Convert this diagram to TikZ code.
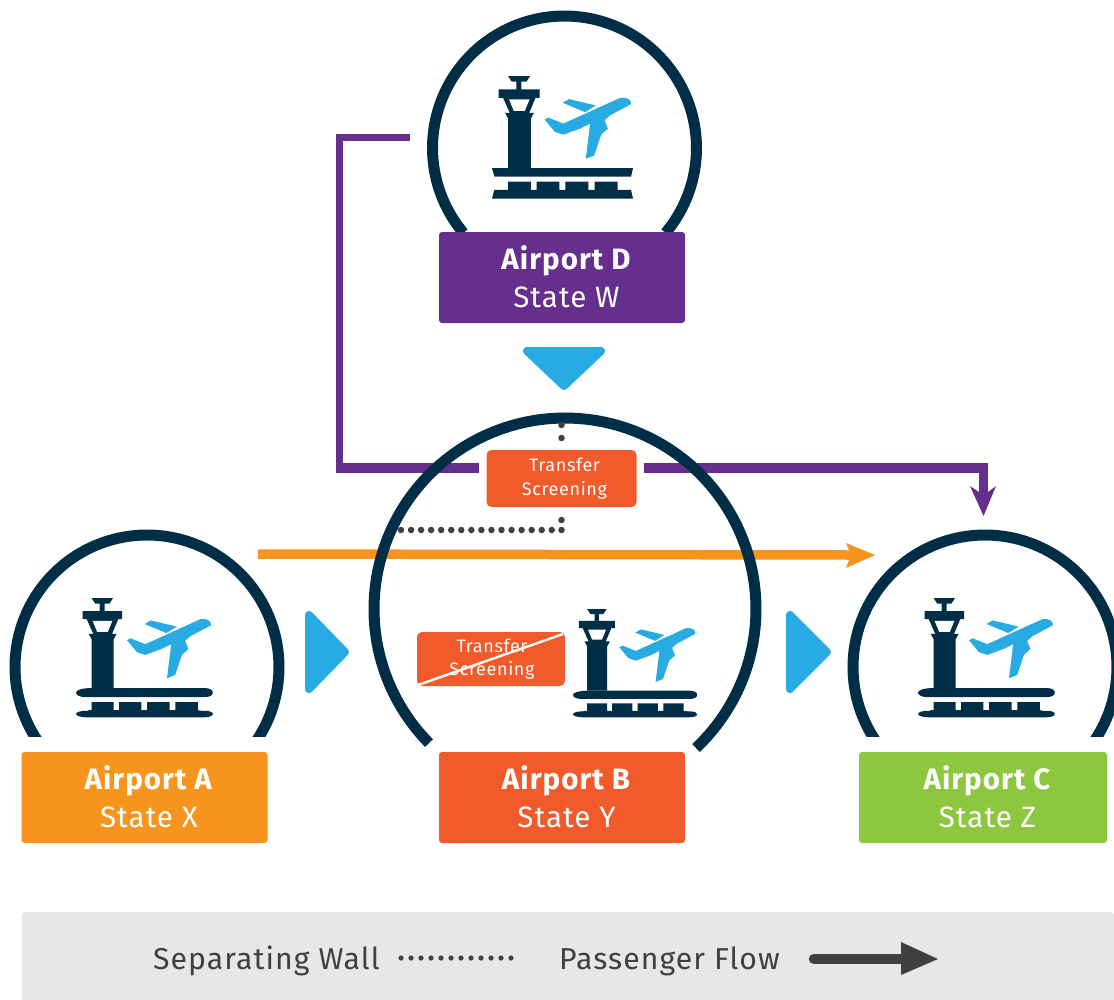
\documentclass[tikz,border=0pt]{standalone}
\usepackage{fontspec}
\setmainfont[LetterSpace=3.5]{Fira Sans}
\definecolor{navy}{HTML}{012E47}
\definecolor{sky}{HTML}{27ABE2}
\definecolor{purp}{HTML}{662F8E}
\definecolor{org}{HTML}{F7941E}
\definecolor{red}{HTML}{F15A2B}
\definecolor{grn}{HTML}{8DC63F}
\definecolor{legendbg}{HTML}{E6E7E8}
\definecolor{ink}{HTML}{404041}
\tikzset{
  labelbox/.style={rounded corners=3pt,minimum width=246pt,minimum height=91pt,text=white,align=center,font=\fontsize{29.5pt}{38pt}\selectfont,inner sep=0pt},
  ring/.style={draw=navy,line width=11pt},
  pointer/.style={fill=sky,draw=sky,line width=8pt,line join=round},
  dot/.style={fill=ink,draw=none,circle,minimum size=6.5pt,inner sep=0pt},
  smalldot/.style={fill=ink,draw=none,circle,minimum size=5.2pt,inner sep=0pt},
  screen/.style={fill=red,rounded corners=5pt,text=white,align=center,font=\fontsize{18pt}{23.5pt}\selectfont,inner sep=0pt},
  legendtext/.style={text=ink,font=\fontsize{30.2pt}{34pt}\selectfont,inner sep=0pt},
}
\newcommand{\lab}[2]{\hspace*{9pt}\raisebox{2pt}{\textbf{#1}}\\\hspace*{9pt}\raisebox{2pt}{#2}}
\newcommand{\airporticon}[4]{% x, y of top-left, scale, round bars (1) or trapezoid (0)
  \begin{scope}[shift={(#1,#2)},x=#3pt,y=-#3pt]
    \fill[navy] (48,0)--(114,0)--(103,17)--(88,17)--(88,40)--(142,40)--(142,65)--(130,65)--(111,110)--(125,110)--(116,127)--(116,277)--(48,277)--(48,127)--(39,110)--(53,110)--(33,65)--(20,65)--(20,40)--(73,40)--(73,17)--(59,17)--cycle;
    \fill[white] (51,70)--(112,70)--(98,104)--(65,104)--cycle;
    \ifnum#4=0
      \fill[navy] (0,275)--(421,275)--(415,300)--(7,300)--cycle;
      \fill[navy] (48,315)--(116,315)--(116,340)--(133,340)--(133,315)--(201,315)--(201,340)--(219,340)--(219,315)--(288,315)--(288,340)--(306,340)--(306,315)--(375,315)--(375,340)--(415,340)--(421,366)--(0,366)--(7,340)--(48,340)--cycle;
    \else
      \fill[navy] (0,291) .. controls (0,283) and (20,277) .. (48,277)--(395,277) .. controls (412,277) and (421,283) .. (421,291) .. controls (421,299) and (412,305) .. (395,305)--(30,305) .. controls (12,305) and (0,299) .. (0,291)--cycle;
      \fill[navy] (48,320)--(116,320)--(116,345)--(133,345)--(133,320)--(201,320)--(201,345)--(219,345)--(219,320)--(288,320)--(288,345)--(306,345)--(306,320)--(375,320)--(375,345)--(395,350)--(30,350)--(40,345)--(48,345)--cycle;
      \fill[navy] (0,357) .. controls (0,351) and (15,347) .. (30,347)--(395,347) .. controls (412,347) and (421,351) .. (421,357) .. controls (421,362) and (412,367) .. (395,367)--(30,367) .. controls (15,367) and (0,362) .. (0,357)--cycle;
    \fi
    \fill[sky] (157,130)--(168,124)--(213,142)--(383,65) .. controls (403,62) and (418,72) .. (415,84)--(353,117)--(336,132)--(346,157)--(326,175)--(305,237)--(280,247)--(293,142)--(263,157)--(213,175)--(188,167)--cycle;
    \fill[sky] (211,80)--(230,69)--(310,88)--(278,108)--cycle;
  \end{scope}}
\begin{document}
\begin{tikzpicture}[x=1pt,y=-1pt]
  \useasboundingbox (0,0) rectangle (1114,999);
  % passenger flows
  \coordinate (dOut) at (410,137);
  \coordinate (dTurn) at (339,137);
  \coordinate (dDown) at (339,468);
  \coordinate (tsL) at (479,468);
  \coordinate (tsR) at (644,468);
  \coordinate (cTurn) at (983.5,468);
  \coordinate (cIn) at (983.5,495);
  \coordinate (oStart) at (258,554);
  \coordinate (oEnd) at (851,555);
  \node[screen,minimum width=150pt,minimum height=57pt] (ts) at (561.5,478.5) {\hspace*{6pt}Transfer\\\hspace*{6pt}Screening};
  \draw[purp,line width=7pt] (dOut)--(dTurn)--(dDown);
  \draw[purp,line width=9.5pt] (335.5,468)--(tsL);
  \draw[purp,line width=9.5pt] (tsR)--(cTurn)--(cIn);
  \fill[purp] (970,486)--(979,492)--(988,492)--(996,486)--(983.5,516)--cycle;
  \draw[org,line width=9.5pt] (oStart)--(oEnd);
  \fill[org] (846,543)--(875,555)--(846,568)--(851,555)--cycle;
  % rings
  \draw[ring] plot[domain=140:400,samples=120] ({564.5+132*cos(\x)},{148+132*sin(\x)});
  \begin{scope}
    \clip (0,500) rectangle (1114,736);
    \draw[ring] plot[domain=135:405,samples=120] ({147+132*cos(\x)},{667+132*sin(\x)});
    \draw[ring] plot[domain=135:405,samples=120] ({985+132*cos(\x)},{667+132*sin(\x)});
  \end{scope}
  \draw[ring] plot[domain=135.4:406.7,samples=160] ({565+191*cos(\x)},{609+191*sin(\x)});
  % icons
  \airporticon{492}{76}{0.335}{0}
  \airporticon{76}{598}{0.325}{1}
  \airporticon{918}{598}{0.325}{1}
  \airporticon{573}{609}{0.295}{1}
  % labels
  \node[labelbox,fill=purp] (d) at (562,277.5) {\lab{Airport D}{State W}};
  \node[labelbox,fill=org] (a) at (144.5,797.5) {\lab{Airport A}{State X}};
  \node[labelbox,fill=red] (b) at (562,797.5) {\lab{Airport B}{State Y}};
  \node[labelbox,fill=grn,minimum width=248pt] (c) at (983,797.5) {\lab{Airport C}{State Z}};
  % pointers
  \path[pointer] (527,351)--(601,351)--(564,386)--cycle;
  \path[pointer] (309,615)--(345,652)--(309,689)--cycle;
  \path[pointer] (790,615)--(827,652)--(790,689)--cycle;
  % walls
  \foreach \yy in {425,438,520,530} \node[dot] at (561.5,\yy) {};
  \foreach \xx in {0,...,15} \node[dot] at ({401+10.05*\xx},530) {};
  % crossed-out screening
  \node[screen,minimum width=148pt,minimum height=54pt] (xs) at (491,659) {\hspace*{2pt}Transfer\\\hspace*{2pt}Screening};
  \draw[white,line width=2.4pt] (418,685)--(563,634);
  % legend
  \node[fill=legendbg,rounded corners=3pt,minimum width=1092pt,minimum height=90pt,inner sep=0pt] (legend) at (568,957) {};
  \node[legendtext,anchor=west] (sw) at (153,961) {Separating Wall};
  \foreach \xx in {0,...,11} \node[smalldot] at ({401+10*\xx},958) {};
  \node[legendtext,anchor=west] (pf) at (559,961) {Passenger Flow};
  \coordinate (legS) at (814,959);
  \coordinate (legE) at (905,959);
  \draw[ink,line width=10.5pt,line cap=round] (legS)--(legE);
  \fill[ink] (901,942)--(938,959)--(901,975)--cycle;
\end{tikzpicture}
\end{document}
